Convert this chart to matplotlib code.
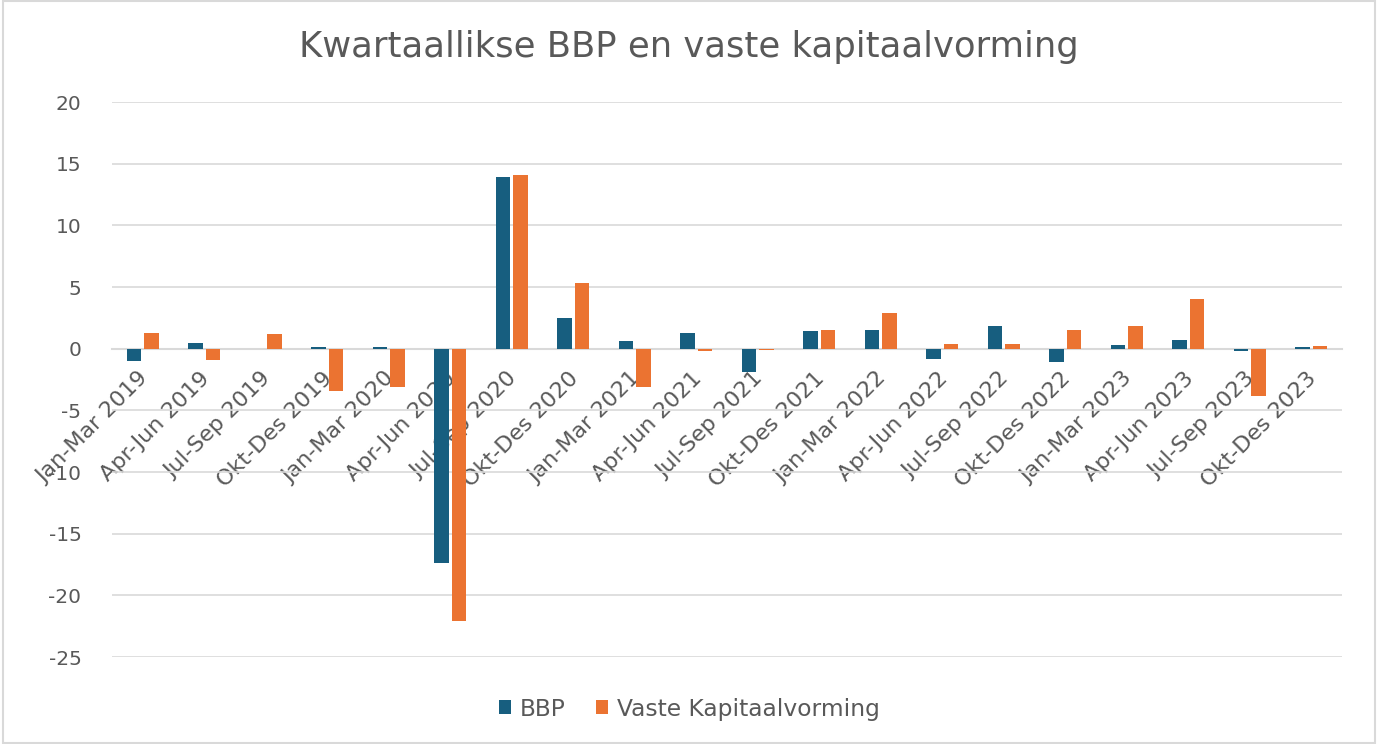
import matplotlib
matplotlib.use("Agg")
import matplotlib.pyplot as plt
import matplotlib.transforms as mtransforms
import numpy as np
from matplotlib.patches import Rectangle

categories = ["Jan-Mar 2019", "Apr-Jun 2019", "Jul-Sep 2019", "Okt-Des 2019",
              "Jan-Mar 2020", "Apr-Jun 2020", "Jul-Sep 2020", "Okt-Des 2020",
              "Jan-Mar 2021", "Apr-Jun 2021", "Jul-Sep 2021", "Okt-Des 2021",
              "Jan-Mar 2022", "Apr-Jun 2022", "Jul-Sep 2022", "Okt-Des 2022",
              "Jan-Mar 2023", "Apr-Jun 2023", "Jul-Sep 2023", "Okt-Des 2023"]
bbp = [-1.0, 0.5, 0.0, 0.1, 0.1, -17.4, 13.9, 2.5, 0.6, 1.3,
       -1.9, 1.4, 1.5, -0.8, 1.8, -1.1, 0.3, 0.7, -0.2, 0.1]
vkv = [1.3, -0.9, 1.2, -3.4, -3.1, -22.1, 14.1, 5.3, -3.1, -0.2,
       -0.1, 1.5, 2.9, 0.4, 0.4, 1.5, 1.8, 4.0, -3.8, 0.2]
yticks = [20, 15, 10, 5, 0, -5, -10, -15, -20, -25]
series_names = ["BBP", "Vaste Kapitaalvorming"]
title = "Kwartaallikse BBP en vaste kapitaalvorming"

plt.rcParams['font.family'] = ['DejaVu Sans']
txt = "#595959"
grid = "#D9D9D9"
c_bbp = "#175E7F"
c_vkv = "#EB7331"

fig = plt.figure(figsize=(13.78, 7.44), dpi=100)
fig.patches.append(Rectangle((0.002, 0.002), 0.996, 0.996, transform=fig.transFigure,
                             fill=False, edgecolor=grid, linewidth=1.5))
ax = fig.add_axes([0.0813, 0.1169, 0.8926, 0.746])

x = np.arange(len(categories))
w = 0.235
off = 0.142
ax.bar(x - off, bbp, width=w, color=c_bbp, label=series_names[0], zorder=3)
ax.bar(x + off, vkv, width=w, color=c_vkv, label=series_names[1], zorder=3)

ax.set_xlim(-0.5, len(categories) - 0.5)
ax.set_ylim(-25, 20)
ax.set_yticks(yticks)
ax.set_yticklabels([str(v) for v in yticks], fontsize=14.5, color=txt)
ax.yaxis.grid(True, color=grid, linewidth=1.2, zorder=0)
ax.tick_params(axis='y', length=0, pad=22)

for s in ['top', 'right', 'left']:
    ax.spines[s].set_visible(False)
ax.spines['bottom'].set_position(('data', 0))
ax.spines['bottom'].set_color(grid)
ax.spines['bottom'].set_linewidth(1.5)
ax.spines['bottom'].set_zorder(2)

ax.set_xticks(x)
ax.set_xticklabels(categories, rotation=45, ha='right', va='top',
                   rotation_mode='anchor', fontsize=16, color=txt)
ax.tick_params(axis='x', length=0, pad=14)
shift = mtransforms.ScaledTranslation(-5 / 100, 0, fig.dpi_scale_trans)
for lab in ax.get_xticklabels():
    lab.set_transform(lab.get_transform() + shift)

fig.text(0.5, 0.937, title, ha='center', va='center', fontsize=25.5, color=txt)

leg = fig.legend(loc='center', bbox_to_anchor=(0.5, 0.047), ncol=2, frameon=False,
                 fontsize=16.8, labelcolor=txt, handlelength=0.55, handleheight=0.55,
                 handletextpad=0.35, columnspacing=1.3)

fig.savefig("out.png", dpi=100)
